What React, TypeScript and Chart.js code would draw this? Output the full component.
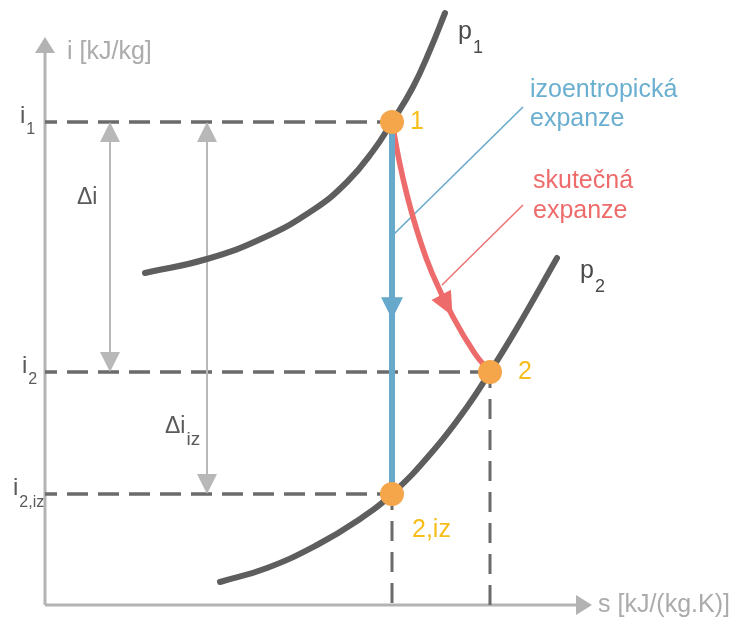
import React, { useEffect, useRef } from "react";
import { Chart, registerables } from "chart.js";

Chart.register(...registerables);

// Schematic i-s (enthalpy-entropy) diagram of a turbine expansion.
// s and i are in arbitrary diagram units.
const S_MIN = -0.9;
const S_MAX = 13.84;
const I_MIN = -0.26;
const I_MAX = 12.1;

// axis arrow tips
const AXIS_S_END = 10.94;
const AXIS_I_END = 11.36;

// state points: 1, 2 (actual), 2,iz (isentropic)
const stateS = [6.94, 8.9, 6.94];
const stateI = [9.66, 4.66, 2.22];
const stateLabels = ["1", "2", "2,iz"];

// isobar p1
const p1S = [2.0, 3.24, 4.36, 5.36, 6.04, 6.56, 6.94, 7.36, 7.7, 8.0];
const p1I = [6.64, 6.92, 7.34, 7.9, 8.46, 9.08, 9.66, 10.36, 11.1, 11.84];

// isobar p2
const p2S = [3.5, 4.44, 5.44, 6.24, 6.94, 7.76, 8.44, 8.9, 9.44, 10.24];
const p2I = [0.46, 0.74, 1.2, 1.68, 2.22, 3.08, 3.96, 4.66, 5.54, 6.94];

// actual (irreversible) expansion path 1 -> 2
const actualS = [6.94, 7.08, 7.25, 7.48, 7.74, 8.15, 8.59, 8.9];
const actualI = [9.66, 8.9, 8.16, 7.36, 6.64, 5.78, 5.04, 4.66];
const ACTUAL_ARROW_INDEX = 5;

// arrow on the isentropic line, as a fraction of the drop from 1 to 2,iz
const ISO_ARROW_FRACTION = 0.53;

// leader lines to the legend texts
const isoLeaderS = [6.94, 9.56];
const isoLeaderI = [7.38, 9.96];
const actLeaderS = [9.56, 7.94];
const actLeaderI = [8.0, 6.4];

// dimension arrows Δi and Δi_iz
const dimDeltaS = 1.3;
const dimDeltaIzS = 3.24;

const COLORS = {
  axis: "#B3B3B3",
  guide: "#6B6B6B",
  isobar: "#5E5E5E",
  dim: "#B8B8B8",
  iso: "#67A9CB",
  isoText: "#6AAFD0",
  act: "#EE6B6B",
  actText: "#EE6B6B",
  point: "#F5A54A",
  pointText: "#F7BE1A",
  label: "#5A5A5A",
  axisTitle: "#ABABAB",
};

const FONT = '"Liberation Sans", Arial, sans-serif';

const zip = (xs: number[], ys: number[]) => xs.map((x, k) => ({ x, y: ys[k] }));

const seg = (a: [number, number], b: [number, number]) => [
  { x: a[0], y: a[1] },
  { x: b[0], y: b[1] },
];

function arrowHead(
  ctx: CanvasRenderingContext2D,
  tx: number,
  ty: number,
  dx: number,
  dy: number,
  len: number,
  half: number,
  color: string
) {
  const n = Math.hypot(dx, dy) || 1;
  const ux = dx / n;
  const uy = dy / n;
  const bx = tx - ux * len;
  const by = ty - uy * len;
  ctx.beginPath();
  ctx.moveTo(tx, ty);
  ctx.lineTo(bx - uy * half, by + ux * half);
  ctx.lineTo(bx + uy * half, by - ux * half);
  ctx.closePath();
  ctx.fillStyle = color;
  ctx.fill();
}

function subText(
  ctx: CanvasRenderingContext2D,
  base: string,
  sub: string,
  x: number,
  y: number,
  size: number,
  subSize: number,
  subDrop: number,
  color: string,
  gap = 1
) {
  ctx.textAlign = "left";
  ctx.textBaseline = "alphabetic";
  ctx.fillStyle = color;
  ctx.font = `${size}px ${FONT}`;
  ctx.fillText(base, x, y);
  const w = ctx.measureText(base).width;
  ctx.font = `${subSize}px ${FONT}`;
  ctx.fillText(sub, x + w + gap, y + subDrop);
}

const overlayPlugin = {
  id: "diagramOverlay",
  afterDatasetsDraw(chart: any) {
    const ctx: CanvasRenderingContext2D = chart.ctx;
    const xs = chart.scales.x;
    const ys = chart.scales.y;
    const px = (s: number) => xs.getPixelForValue(s);
    const py = (i: number) => ys.getPixelForValue(i);

    ctx.save();

    // axis arrowheads
    arrowHead(ctx, px(0), py(AXIS_I_END), 0, -1, 16, 10, COLORS.axis);
    arrowHead(ctx, px(AXIS_S_END), py(0), 1, 0, 16, 10, COLORS.axis);

    // dimension arrowheads
    const i1 = stateI[0];
    const i2 = stateI[1];
    const i2iz = stateI[2];
    arrowHead(ctx, px(dimDeltaS), py(i1), 0, -1, 20, 10, COLORS.dim);
    arrowHead(ctx, px(dimDeltaS), py(i2), 0, 1, 20, 10, COLORS.dim);
    arrowHead(ctx, px(dimDeltaIzS), py(i1), 0, -1, 20, 10, COLORS.dim);
    arrowHead(ctx, px(dimDeltaIzS), py(i2iz), 0, 1, 20, 10, COLORS.dim);

    // isentropic expansion arrow
    const isoTipI = i1 - ISO_ARROW_FRACTION * (i1 - i2iz);
    arrowHead(ctx, px(stateS[0]), py(isoTipI), 0, 1, 22, 11, COLORS.iso);

    // actual expansion arrow, along the path tangent
    const k = ACTUAL_ARROW_INDEX;
    const dx = px(actualS[k + 1]) - px(actualS[k - 1]);
    const dy = py(actualI[k + 1]) - py(actualI[k - 1]);
    arrowHead(ctx, px(actualS[k]), py(actualI[k]), dx, dy, 24, 11, COLORS.act);

    ctx.restore();
  },
  afterDraw(chart: any) {
    const ctx: CanvasRenderingContext2D = chart.ctx;
    const xs = chart.scales.x;
    const ys = chart.scales.y;
    const px = (s: number) => xs.getPixelForValue(s);
    const py = (i: number) => ys.getPixelForValue(i);

    ctx.save();
    ctx.textBaseline = "alphabetic";
    ctx.textAlign = "left";

    // axis titles
    ctx.fillStyle = COLORS.axisTitle;
    ctx.font = `25px ${FONT}`;
    ctx.fillText("i [kJ/kg]", px(0) + 22, py(AXIS_I_END) + 22);
    ctx.fillText("s [kJ/(kg.K)]", px(AXIS_S_END) + 6, py(0) + 7);

    // enthalpy levels on the i axis
    const ox = px(0);
    subText(ctx, "i", "1", ox - 25, py(stateI[0]) + 1, 24, 16, 11, COLORS.label);
    subText(ctx, "i", "2", ox - 23, py(stateI[1]) + 1, 24, 16, 11, COLORS.label);
    subText(ctx, "i", "2,iz", ox - 32, py(stateI[2]) + 1, 24, 16, 12, COLORS.label);

    // dimension labels
    ctx.fillStyle = COLORS.label;
    ctx.font = `23px ${FONT}`;
    ctx.fillText("Δi", px(dimDeltaS) - 33, py(stateI[0]) + 82);
    subText(ctx, "Δi", "iz", px(dimDeltaIzS) - 42, py(stateI[2]) - 61, 23, 19, 12, COLORS.label);

    // isobar names
    subText(ctx, "p", "1", px(p1S[p1S.length - 1]) + 13, py(p1I[p1I.length - 1]) + 26, 25, 18, 14, "#4A4A4A");
    subText(ctx, "p", "2", px(p2S[p2S.length - 1]) + 23, py(p2I[p2I.length - 1]) + 20, 25, 18, 14, "#4A4A4A");

    // state point numbers
    ctx.fillStyle = COLORS.pointText;
    ctx.font = `25px ${FONT}`;
    ctx.fillText(stateLabels[0], px(stateS[0]) + 18, py(stateI[0]) + 7);
    ctx.fillText(stateLabels[1], px(stateS[1]) + 28, py(stateI[1]) + 7);
    ctx.fillText(stateLabels[2], px(stateS[2]) + 20, py(stateI[2]) + 43);

    // legend texts
    ctx.fillStyle = COLORS.isoText;
    ctx.fillText("izoentropická", px(isoLeaderS[1]) + 7, py(isoLeaderI[1]) - 10);
    ctx.fillText("expanze", px(isoLeaderS[1]) + 7, py(isoLeaderI[1]) + 19);
    ctx.fillStyle = COLORS.actText;
    ctx.fillText("skutečná", px(actLeaderS[0]) + 10, py(actLeaderI[0]) - 17);
    ctx.fillText("expanze", px(actLeaderS[0]) + 10, py(actLeaderI[0]) + 13);

    ctx.restore();
  },
};

export default function App() {
  const canvasRef = useRef<HTMLCanvasElement | null>(null);

  useEffect(() => {
    const canvas = canvasRef.current;
    if (!canvas) return;

    const i1 = stateI[0];
    const i2 = stateI[1];
    const i2iz = stateI[2];
    const s1 = stateS[0];
    const s2 = stateS[1];

    const line = (data: any[], color: string, width: number, order: number, extra: any = {}) => ({
      data,
      showLine: true,
      borderColor: color,
      backgroundColor: color,
      borderWidth: width,
      pointRadius: 0,
      tension: 0,
      order,
      ...extra,
    });

    const curve = { tension: 0.45, borderCapStyle: "round", borderJoinStyle: "round" };
    const dashed = { borderDash: [21, 10], borderDashOffset: 9, borderCapStyle: "butt" };

    const chart = new Chart(canvas, {
      type: "scatter",
      data: {
        datasets: [
          // axes
          line(seg([0, 0], [0, AXIS_I_END - 0.2]), COLORS.axis, 3, 20),
          line(seg([0, 0], [AXIS_S_END - 0.2, 0]), COLORS.axis, 3, 20),
          // guide lines
          line(seg([0, i1], [s1, i1]), COLORS.guide, 3.5, 18, dashed),
          line(seg([0, i2], [s2, i2]), COLORS.guide, 3.5, 18, dashed),
          line(seg([0, i2iz], [s1, i2iz]), COLORS.guide, 3.5, 18, dashed),
          line(seg([s1, i2iz], [s1, 0]), COLORS.guide, 3, 18, { borderDash: [20, 11], borderDashOffset: 4 }),
          line(seg([s2, i2], [s2, 0]), COLORS.guide, 3, 18, { borderDash: [20, 11], borderDashOffset: 4 }),
          // dimension arrows
          line(seg([dimDeltaS, i1 - 0.3], [dimDeltaS, i2 + 0.3]), COLORS.dim, 2, 16),
          line(seg([dimDeltaIzS, i1 - 0.3], [dimDeltaIzS, i2iz + 0.3]), COLORS.dim, 2, 16),
          // isobars
          line(zip(p1S, p1I), COLORS.isobar, 6, 12, curve),
          line(zip(p2S, p2I), COLORS.isobar, 6, 12, curve),
          // leader lines
          line(zip(isoLeaderS, isoLeaderI), COLORS.iso, 1.6, 8),
          line(zip(actLeaderS, actLeaderI), "#EE7474", 1.6, 8),
          // actual expansion
          line(zip(actualS, actualI), COLORS.act, 5.5, 6, curve),
          // isentropic expansion
          line(seg([s1, i1], [s1, i2iz]), COLORS.iso, 6, 5),
          // state points
          {
            data: zip(stateS, stateI),
            showLine: false,
            pointRadius: 12,
            pointBackgroundColor: COLORS.point,
            pointBorderWidth: 0,
            order: 1,
          },
        ],
      },
      options: {
        responsive: false,
        devicePixelRatio: 1,
        animation: false,
        events: [],
        layout: { padding: 0, autoPadding: false },
        plugins: {
          legend: { display: false },
          tooltip: { enabled: false },
        },
        scales: {
          x: { type: "linear", min: S_MIN, max: S_MAX, display: false },
          y: { type: "linear", min: I_MIN, max: I_MAX, display: false },
        },
      } as any,
      plugins: [overlayPlugin],
    } as any);

    return () => chart.destroy();
  }, []);

  return (
    <div style={{ position: "absolute", left: 0, top: 0, width: 737, height: 618, background: "#fff" }}>
      <canvas ref={canvasRef} width={737} height={618} style={{ display: "block" }} />
    </div>
  );
}
